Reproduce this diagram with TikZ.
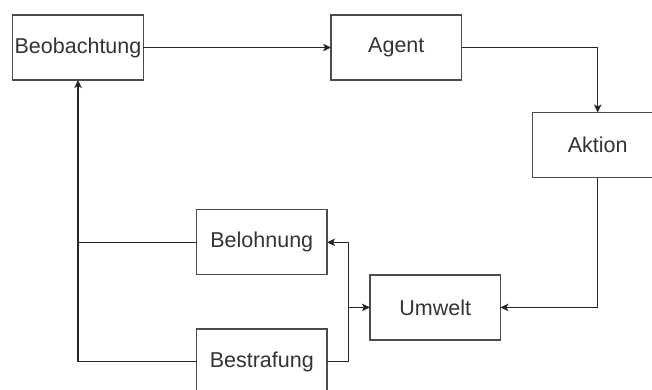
\documentclass[tikz,border=0pt]{standalone}
\usepackage{fontspec}
\setmainfont{Liberation Sans}
\usetikzlibrary{arrows.meta}

\begin{document}
\begin{tikzpicture}[
            x = 1pt, y = -1pt,
            every node/.style={font=\fontsize{21.5}{25}\selectfont, text=black!80},
            box/.style={draw=black!70, line width = 1.2pt, minimum width = 130.5pt,
                        minimum height = 65pt, inner sep = 0pt, outer sep = 0pt},
            line/.style={draw=black!85, line width = 1.1pt},
            arrow/.style={line, -{Stealth[length=8pt, width=7.5pt, inset=2pt]}},
            ]
        \useasboundingbox (0, 0) rectangle (652, 389);

        \node[box] (beob) at (78, 47.5) {Beobachtung};
        \node[box] (agent) at (396.3, 47.5) {Agent};
        \node[box] (aktion) at (597.7, 145) {Aktion};
        \node[box] (belohnung) at (261.8, 242.3) {Belohnung};
        \node[box] (umwelt) at (435.2, 307.4) {Umwelt};
        \node[box] (bestrafung) at (261.8, 361.5) {Bestrafung};
        \coordinate (mid) at (348.3, 307.4);
        \coordinate (join) at (beob.south |- belohnung.west);

        \draw[arrow] (beob) -- (agent);
        \draw[arrow] (agent.east) -| (aktion.north);
        \draw[arrow] (aktion.south) |- (umwelt.east);
        \draw[arrow] (umwelt.west) -- (mid) |- (belohnung.east);
        \draw[arrow] (bestrafung.east) -| (mid) -- (umwelt.west);
        \draw[arrow] (belohnung.west) -- (join) -- (beob.south);
        \draw[line] (bestrafung.west) -| (join);
    \end{tikzpicture}
\end{document}
